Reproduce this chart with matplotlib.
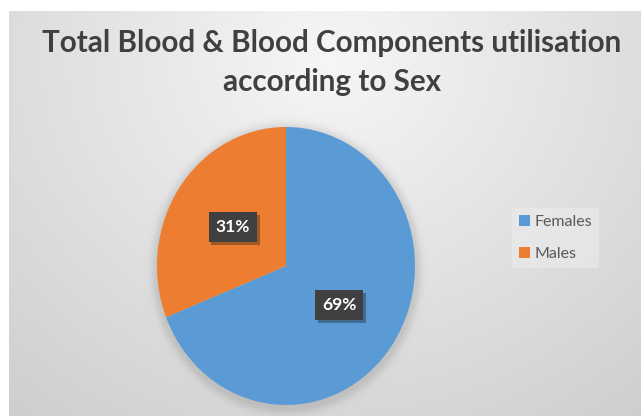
import numpy as np
import matplotlib.pyplot as plt
import matplotlib.patheffects as pe

labels = ['Females', 'Males']
shares = [69, 31]
colors = ['#5B9BD5', '#ED7D31']
title_lines = ['Total Blood & Blood Components utilisation', 'according to Sex']

W, H = 641, 416
fig = plt.figure(figsize=(W / 100, H / 100), dpi=100)

# grey panel with a soft radial gradient and a halo under the pie
yy, xx = np.mgrid[0:H, 0:W]
r = np.hypot((xx - 330) / 420, (yy - 60) / 380)
g = 0.965 - 0.13 * np.clip(r, 0, 1.2)
cx, cy, a, b = 286, 268, 129, 139
rr = np.hypot((xx - cx) / a, (yy - cy) / b)
g = g - np.where(rr > 1, np.exp(-((rr - 1) * 135 / 7) ** 2), 1) * 0.10
img = np.dstack([g, g, g]).clip(0, 1)
img[:11, :] = 1
img[:, :9] = 1
bg = fig.add_axes([0, 0, 1, 1])
bg.imshow(img, extent=[0, W, H, 0], aspect='auto')
bg.axis('off')

# pie (stretched a little, like the original)
ax = fig.add_axes([157 / W, 1 - 405 / H, 258 / W, 278 / H])
wedges, texts, autotexts = ax.pie(shares, colors=colors, startangle=90, counterclock=False,
                                  autopct='%1.0f%%', pctdistance=0.5,
                                  wedgeprops=dict(linewidth=0))
ax.set_aspect('auto')
ax.set_xlim(-1, 1)
ax.set_ylim(-1, 1)
for t in autotexts:
    t.set(color='white', fontsize=12.5, fontweight='bold', family='Lato')
    t.set_bbox(dict(boxstyle='square,pad=0.4', fc='#404040', ec='none'))
    t.get_bbox_patch().set_path_effects([pe.withSimplePatchShadow(offset=(2, -2), alpha=0.35)])

fig.text(332 / W, 1 - 52 / H, title_lines[0], ha='center', va='baseline',
         fontsize=21.3, fontweight='bold', family='Lato', color='#404040')
fig.text(332 / W, 1 - 91 / H, title_lines[1], ha='center', va='baseline',
         fontsize=21.3, fontweight='bold', family='Lato', color='#404040')

leg = fig.legend(wedges, labels, loc='center left', bbox_to_anchor=(512 / W, 1 - 238 / H),
                 frameon=True, fancybox=False, edgecolor='none', facecolor='#ececec',
                 framealpha=0.6, handlelength=0.7, handleheight=0.7, handletextpad=0.25,
                 labelspacing=1.1, borderpad=0.45, borderaxespad=0,
                 prop={'family': 'Lato', 'size': 11.5})
for t in leg.get_texts():
    t.set_color('#595959')

fig.savefig('out.png', dpi=100)
